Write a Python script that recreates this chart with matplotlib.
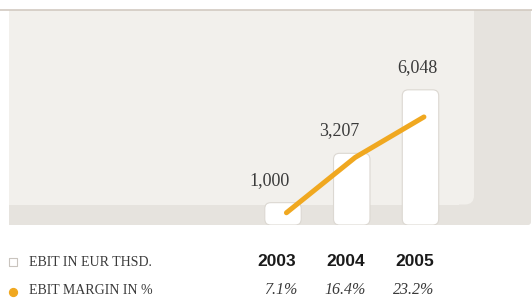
import numpy as np
import matplotlib.pyplot as plt
from matplotlib.patches import FancyBboxPatch, Rectangle

# data
years = ['2003', '2004', '2005']
ebit = [1000, 3207, 6048]
margin = [7.1, 16.4, 23.2]
row_labels = ['EBIT IN EUR THSD.', 'EBIT MARGIN IN %']

# colours
LIGHT = '#f2f0ec'
DARK = '#e6e3de'
RULE = '#d2cac1'
ORANGE = '#f0a820'
TEXT = '#3a3a3a'

W, H = 532, 298
fig = plt.figure(figsize=(W / 100, H / 100), dpi=100)
fig.patch.set_facecolor('white')

# background in pixel coordinates
bg = fig.add_axes([0, 0, 1, 1])
bg.set_xlim(0, W)
bg.set_ylim(H, 0)
bg.axis('off')
bg.plot([0, W], [9.5, 9.5], color=RULE, lw=1.2, solid_capstyle='butt')
bg.add_patch(FancyBboxPatch((9, 10), 522, 215, boxstyle='round,pad=0,rounding_size=3',
                            fc=DARK, ec='none'))
bg.add_patch(Rectangle((9, 10), 522, 200, fc=DARK, ec='none'))
bg.add_patch(Rectangle((9, 10), 500, 215, fc=DARK, ec='none'))
bg.add_patch(FancyBboxPatch((9, 10), 465, 194.5, boxstyle='round,pad=0,rounding_size=9',
                            fc=LIGHT, ec='none'))
bg.add_patch(Rectangle((9, 10), 465, 180, fc=LIGHT, ec='none'))
bg.add_patch(Rectangle((9, 10), 450, 194.5, fc=LIGHT, ec='none'))

# bar axes: baseline at y=225px, bar centres 283px + 68.75px steps
base_px, top_px = 225, 10
left_px, right_px = 9, 531
c0, step = 283, 68.75
ax = fig.add_axes([left_px / W, (H - base_px) / H, (right_px - left_px) / W, (base_px - top_px) / H])
ax.set_zorder(1)
ax.patch.set_visible(False)
ax.axis('off')
x = np.arange(len(years))
ax.set_xlim((left_px - c0) / step, (right_px - c0) / step)
ax.set_ylim(0, (base_px - top_px) / 0.02235)

bars = ax.bar(x, ebit, width=0.53, alpha=0)
x_per_px = step ** -1
y_per_px = ax.get_ylim()[1] / (base_px - top_px)
radius = 6
for r in bars:
    ax.add_patch(FancyBboxPatch((r.get_x(), r.get_y()), r.get_width(), r.get_height(),
                                boxstyle=f'round,pad=0,rounding_size={radius * x_per_px}',
                                mutation_aspect=y_per_px / x_per_px,
                                fc='white', ec='#dcd8d2', lw=0.8))

label_dx = [-13, -13, -3]
for i, v in enumerate(ebit):
    ax.annotate(f'{v:,}', xy=(i, v), xytext=(label_dx[i], 14), textcoords='offset pixels',
                ha='center', va='bottom', fontsize=13, family='Liberation Serif', color=TEXT)

# margin line on a twin axis (0% sits 30px below the baseline)
ax2 = ax.twinx()
ax2.patch.set_visible(False)
ax2.axis('off')
px_per_pct = 5.95
ax2.set_ylim(30 / px_per_pct, (30 + base_px - top_px) / px_per_pct)
ax2.plot(x + 0.05, margin, color=ORANGE, lw=3.6, solid_capstyle='round', solid_joinstyle='round')

# table below the chart
row_y = [262, 291]
bg.scatter([13], [row_y[0]], marker='s', s=28, facecolor='white', edgecolor='#c9c4be', lw=0.8)
bg.scatter([13], [row_y[1] + 1], marker='o', s=32, color=ORANGE)
for lab, yy in zip(row_labels, row_y):
    bg.text(29, yy, lab, ha='left', va='center', fontsize=10, family='Liberation Serif', color=TEXT)

for i, yr in enumerate(years):
    xc = c0 + step * i - 6
    bg.text(xc, row_y[0], yr, ha='center', va='center', fontsize=12.5, fontweight='bold',
            family='Liberation Sans', color='#1a1a1a')
    bg.text(xc + 20, row_y[1] - 1, f'{margin[i]}%', ha='right', va='center', fontsize=11.5,
            style='italic', family='Liberation Serif', color=TEXT)

fig.savefig('out.png', dpi=100)
